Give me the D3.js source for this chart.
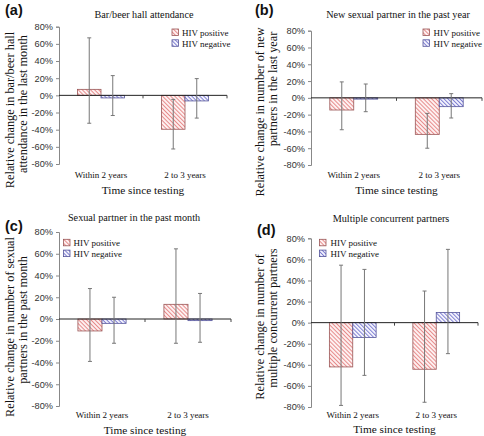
<!DOCTYPE html>
<html><head><meta charset="utf-8">
<script src="https://cdn.jsdelivr.net/npm/d3@7"></script>
<style>
html,body{margin:0;padding:0;background:#fff;}
svg{display:block;}
</style></head>
<body>
<svg id="chart" width="484" height="436"></svg>
<script>
// ---- data ----
const categories = ["Within 2 years", "2 to 3 years"];
const seriesNames = ["HIV positive", "HIV negative"];
const yTicks = [-80, -60, -40, -20, 0, 20, 40, 60, 80];
const yTickLabels = ["-80%", "-60%", "-40%", "-20%", "0%", "20%", "40%", "60%", "80%"];

const panelLetters = ["(a)", "(b)", "(c)", "(d)"];
const panelTitles = ["Bar/beer hall attendance", "New sexual partner in the past year",
                     "Sexual partner in the past month", "Multiple concurrent partners"];
const yTitles = [
  ["Relative change in bar/beer hall", "attendance in the last month"],
  ["Relative change in number of new", "partners in the last year"],
  ["Relative change in number of sexual", "partners in the past month"],
  ["Relative change in number of", "multiple concurrent partners"]
];
const xTitle = "Time since testing";

// panel (a)
const aPos = [7, -39.5],   aPosLo = [-32.5, -62.5], aPosHi = [67, -4.7];
const aNeg = [-3, -6.5],   aNegLo = [-23.5, -26.5], aNegHi = [23, 19.5];
// panel (b)
const bPos = [-14.5, -43.5], bPosLo = [-38, -60],   bPosHi = [19, -18.5];
const bNeg = [-1.5, -10.5],  bNegLo = [-16.5, -24], bNegHi = [16.5, 5];
// panel (c)
const cPos = [-11, 13.5],  cPosLo = [-39, -22.3],  cPosHi = [28, 64.5];
const cNeg = [-4, -1.5],   cNegLo = [-22.3, -21.4], cNegHi = [20, 23.5];
// panel (d)
const dPos = [-42, -44.2], dPosLo = [-78.5, -75.5], dPosHi = [54.5, 30];
const dNeg = [-14, 9.7],   dNegLo = [-50, -29.4],   dNegHi = [50.5, 69.5];

const panelData = [
  {pos: aPos, posLo: aPosLo, posHi: aPosHi, neg: aNeg, negLo: aNegLo, negHi: aNegHi},
  {pos: bPos, posLo: bPosLo, posHi: bPosHi, neg: bNeg, negLo: bNegLo, negHi: bNegHi},
  {pos: cPos, posLo: cPosLo, posHi: cPosHi, neg: cNeg, negLo: cNegLo, negHi: cNegHi},
  {pos: dPos, posLo: dPosLo, posHi: dPosHi, neg: dNeg, negLo: dNegLo, negHi: dNegHi}
];

// ---- layout (positions / styles) ----
const layout = [
  {x0: 59,  x1: 227, yTop: 26.7, yBot: 164, title: [144, 17.5], letter: [5, 15],
   legend: [172, 29, 182], ylab: [[10, 110], [22.5, 104]], catY: 177.5, xtY: 194},
  {x0: 311, x1: 482, yTop: 30.7, yBot: 165, title: [398, 17.5], letter: [255, 15],
   legend: [423, 29, 433.5], ylab: [[259.5, 112], [272.5, 89]], catY: 177.5, xtY: 193.5},
  {x0: 59,  x1: 231, yTop: 232, yBot: 406, title: [134, 221], letter: [5, 231],
   legend: [63.5, 239.3, 73.5], ylab: [[9.5, 327], [22.5, 320]], catY: 418, xtY: 433.5},
  {x0: 311, x1: 478, yTop: 238.3, yBot: 407, title: [391, 221.5], letter: [257, 235],
   legend: [319.5, 239.3, 330.5], ylab: [[260, 327], [273, 318]], catY: 418, xtY: 433}
];

const colors = {
  pos: {line: "#dd5a5a", bg: "#fdf0f0", stroke: "#9a5656"},
  neg: {line: "#4a4ac0", bg: "#f2f2fc", stroke: "#55559a"}
};
const serif = "'Liberation Serif','Times New Roman',serif";
const sans = "'Liberation Sans',Arial,sans-serif";

const svg = d3.select("#chart");
const defs = svg.append("defs");
function hatch(id, c, gap) {
  const p = defs.append("pattern").attr("id", id).attr("patternUnits", "userSpaceOnUse")
    .attr("width", gap).attr("height", gap).attr("patternTransform", "rotate(-45)");
  p.append("rect").attr("width", gap).attr("height", gap).attr("fill", c.bg);
  p.append("line").attr("x1", 0).attr("y1", 0).attr("x2", 0).attr("y2", gap)
    .attr("stroke", c.line).attr("stroke-width", 1.3);
}
hatch("hpos", colors.pos, 2.9);
hatch("hneg", colors.neg, 2.8);

panelData.forEach((d, i) => {
  const L = layout[i];
  const g = svg.append("g");
  const y = d3.scaleLinear().domain([-80, 80]).range([L.yBot, L.yTop]);
  const x = d3.scaleBand().domain(categories).range([L.x0, L.x1])
    .paddingInner(0.44).paddingOuter(0.22);
  const xs = d3.scaleBand().domain(seriesNames).range([0, x.bandwidth()]).padding(0);

  // y axis
  const yAxis = d3.axisLeft(y).tickValues(yTicks)
    .tickFormat((v, k) => yTickLabels[k]).tickSize(3).tickPadding(3);
  const ya = g.append("g").attr("transform", `translate(${L.x0},0)`).call(yAxis);
  ya.select(".domain").attr("stroke", "#888");
  ya.selectAll(".tick line").attr("stroke", "#888");
  ya.selectAll(".tick text").attr("font-family", sans).attr("font-size", 9.2).attr("fill", "#333");

  // bars
  const rows = categories.map((c, k) => ([
    {cat: c, s: seriesNames[0], v: d.pos[k], lo: d.posLo[k], hi: d.posHi[k], fill: "url(#hpos)", stroke: colors.pos.stroke},
    {cat: c, s: seriesNames[1], v: d.neg[k], lo: d.negLo[k], hi: d.negHi[k], fill: "url(#hneg)", stroke: colors.neg.stroke}
  ])).flat();

  g.selectAll("rect.bar").data(rows).join("rect").attr("class", "bar")
    .attr("x", r => x(r.cat) + xs(r.s))
    .attr("width", xs.bandwidth())
    .attr("y", r => y(Math.max(0, r.v)))
    .attr("height", r => Math.abs(y(r.v) - y(0)))
    .attr("fill", r => r.fill).attr("stroke", r => r.stroke).attr("stroke-width", 0.8);

  // zero axis
  g.append("line").attr("x1", L.x0).attr("x2", L.x1).attr("y1", y(0)).attr("y2", y(0))
    .attr("stroke", "#222").attr("stroke-width", 1);
  const xb = [(x(categories[0]) + x.bandwidth() + x(categories[1])) / 2, L.x1];
  g.selectAll("line.xt").data(xb).join("line").attr("class", "xt")
    .attr("x1", v => v).attr("x2", v => v).attr("y1", y(0)).attr("y2", y(0) + 3)
    .attr("stroke", "#444");

  // error bars
  const eg = g.selectAll("g.err").data(rows).join("g").attr("class", "err")
    .attr("stroke", "#777").attr("stroke-width", 1);
  eg.append("line")
    .attr("x1", r => x(r.cat) + xs(r.s) + xs.bandwidth() / 2)
    .attr("x2", r => x(r.cat) + xs(r.s) + xs.bandwidth() / 2)
    .attr("y1", r => y(r.hi)).attr("y2", r => y(r.lo));
  ["hi", "lo"].forEach(key => {
    eg.append("line")
      .attr("x1", r => x(r.cat) + xs(r.s) + xs.bandwidth() / 2 - 2)
      .attr("x2", r => x(r.cat) + xs(r.s) + xs.bandwidth() / 2 + 2)
      .attr("y1", r => y(r[key])).attr("y2", r => y(r[key]));
  });

  // category labels
  g.selectAll("text.cat").data(categories).join("text").attr("class", "cat")
    .attr("x", c => x(c) + x.bandwidth() / 2).attr("y", L.catY)
    .attr("text-anchor", "middle").attr("font-family", serif).attr("font-size", 9)
    .attr("fill", "#111").text(c => c);

  // x title
  g.append("text").attr("x", (L.x0 + L.x1) / 2).attr("y", L.xtY)
    .attr("text-anchor", "middle").attr("font-family", serif).attr("font-size", 11.3)
    .attr("fill", "#111").text(xTitle);

  // panel title
  g.append("text").attr("x", L.title[0]).attr("y", L.title[1])
    .attr("text-anchor", "middle").attr("font-family", serif).attr("font-size", 10.2)
    .attr("fill", "#111").text(panelTitles[i]);

  // panel letter
  g.append("text").attr("x", L.letter[0]).attr("y", L.letter[1])
    .attr("font-family", sans).attr("font-weight", "bold").attr("font-size", 14.5)
    .attr("fill", "#111").text(panelLetters[i]);

  // y title
  yTitles[i].forEach((t, k) => {
    g.append("text")
      .attr("transform", `translate(${L.ylab[k][0]},${L.ylab[k][1]}) rotate(-90)`)
      .attr("text-anchor", "middle").attr("dominant-baseline", "central")
      .attr("font-family", serif).attr("font-size", 12.3).attr("fill", "#111").text(t);
  });

  // legend
  seriesNames.forEach((s, k) => {
    const ly = L.legend[1] + k * 10.8;
    g.append("rect").attr("x", L.legend[0]).attr("y", ly).attr("width", 6.5).attr("height", 6.5)
      .attr("fill", k === 0 ? "url(#hpos)" : "url(#hneg)")
      .attr("stroke", k === 0 ? colors.pos.stroke : colors.neg.stroke).attr("stroke-width", 0.8);
    g.append("text").attr("x", L.legend[2]).attr("y", ly + 6.8)
      .attr("font-family", serif).attr("font-size", 9).attr("fill", "#111").text(s);
  });
});
</script>
</body></html>
